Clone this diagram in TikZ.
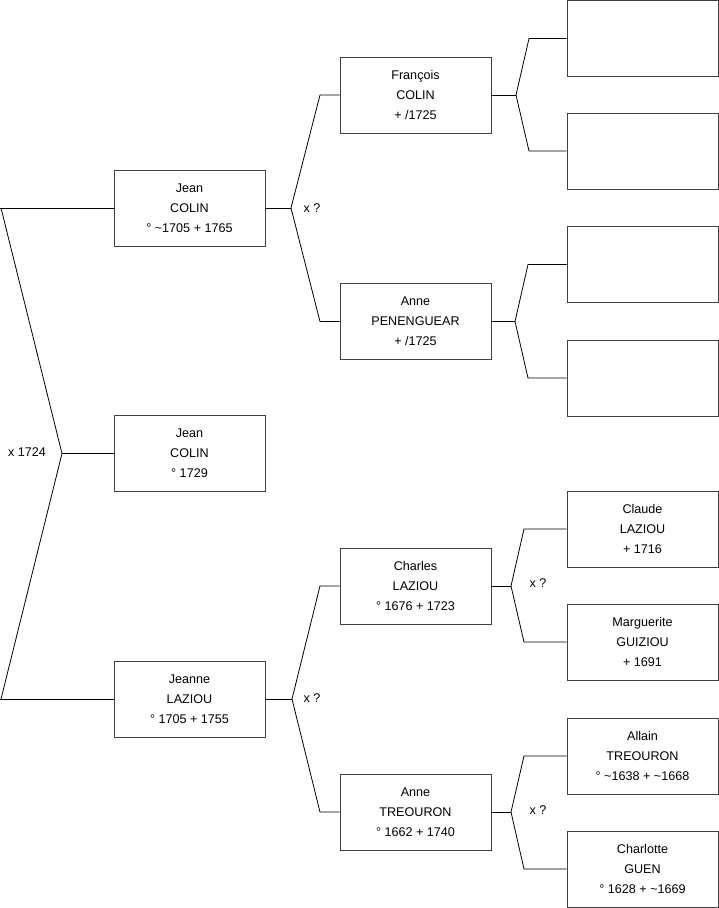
\documentclass[tikz,border=0pt]{standalone}
\usepackage{fontspec}
\setmainfont{Liberation Sans}
\begin{document}
\begin{tikzpicture}[x=1pt,y=-1pt,
  person/.style={draw=black!75,line width=0.9pt,minimum width=151pt,minimum height=76pt,
    inner sep=0pt,align=center,font=\fontsize{12.6}{20}\selectfont},
  link/.style={draw=black,line width=0.8pt},
  lbl/.style={font=\fontsize{12.6}{14}\selectfont,inner sep=0pt}]
\useasboundingbox (0,0) rectangle (719,908);
% column 1
\node[person] (j1) at (189.5,208) {Jean\\COLIN\\° \textasciitilde1705 + 1765};
\node[person] (j2) at (189.5,453.5) {Jean\\COLIN\\° 1729};
\node[person] (j3) at (189.5,699) {Jeanne\\LAZIOU\\° 1705 + 1755};
% column 2
\node[person] (f1) at (415.5,95) {François\\COLIN\\+ /1725};
\node[person] (f2) at (415.5,321.5) {Anne\\PENENGUEAR\\+ /1725};
\node[person] (f3) at (415.5,586) {Charles\\LAZIOU\\° 1676 + 1723};
\node[person] (f4) at (415.5,812) {Anne\\TREOURON\\° 1662 + 1740};
% column 3
\node[person] (g1) at (642.5,38.5) {};
\node[person] (g2) at (642.5,151) {};
\node[person] (g3) at (642.5,264.5) {};
\node[person] (g4) at (642.5,378) {};
\node[person] (g5) at (642.5,529) {Claude\\LAZIOU\\+ 1716};
\node[person] (g6) at (642.5,642) {Marguerite\\GUIZIOU\\+ 1691};
\node[person] (g7) at (642.5,756) {Allain\\TREOURON\\° \textasciitilde1638 + \textasciitilde1668};
\node[person] (g8) at (642.5,869) {Charlotte\\GUEN\\° 1628 + \textasciitilde1669};
% root fork
\coordinate (r1) at (1,208);
\coordinate (ra) at (62,453.5);
\coordinate (r2) at (1,699);
\draw[link] (j1.west) -- (0,208);
\draw[link] (j3.west) -- (0,699);
\draw[link] (r1) -- (ra) -- (r2);
\draw[link] (ra) -- (j2.west);
\node[lbl] (m0) at (27,452) {x 1724};
% second level forks
\coordinate (a1) at (291,208);
\coordinate (a1u) at (320,95);
\coordinate (a1d) at (320,321.5);
\draw[link] (j1.east) -- (a1);
\draw[link] (f1.west) -- (a1u) -- (a1) -- (a1d) -- (f2.west);
\node[lbl] (m1) at (312,208) {x ?};
\coordinate (a3) at (292,699);
\coordinate (a3u) at (320,586);
\coordinate (a3d) at (320,812);
\draw[link] (j3.east) -- (a3);
\draw[link] (f3.west) -- (a3u) -- (a3) -- (a3d) -- (f4.west);
\node[lbl] (m3) at (312,698) {x ?};
% third level forks
\coordinate (b1) at (516,95);
\coordinate (b1u) at (529,38.5);
\coordinate (b1d) at (529,151);
\draw[link] (f1.east) -- (b1);
\draw[link] (g1.west) -- (b1u) -- (b1) -- (b1d) -- (g2.west);
\coordinate (b2) at (515,321.5);
\coordinate (b2u) at (528,264.5);
\coordinate (b2d) at (528,378);
\draw[link] (f2.east) -- (b2);
\draw[link] (g3.west) -- (b2u) -- (b2) -- (b2d) -- (g4.west);
\coordinate (b3) at (511,586);
\coordinate (b3u) at (524,529);
\coordinate (b3d) at (524,642);
\draw[link] (f3.east) -- (b3);
\draw[link] (g5.west) -- (b3u) -- (b3) -- (b3d) -- (g6.west);
\node[lbl] (m5) at (538,583) {x ?};
\coordinate (b4) at (511,812);
\coordinate (b4u) at (524,756);
\coordinate (b4d) at (524,869);
\draw[link] (f4.east) -- (b4);
\draw[link] (g7.west) -- (b4u) -- (b4) -- (b4d) -- (g8.west);
\node[lbl] (m7) at (538,810) {x ?};
\end{tikzpicture}
\end{document}
